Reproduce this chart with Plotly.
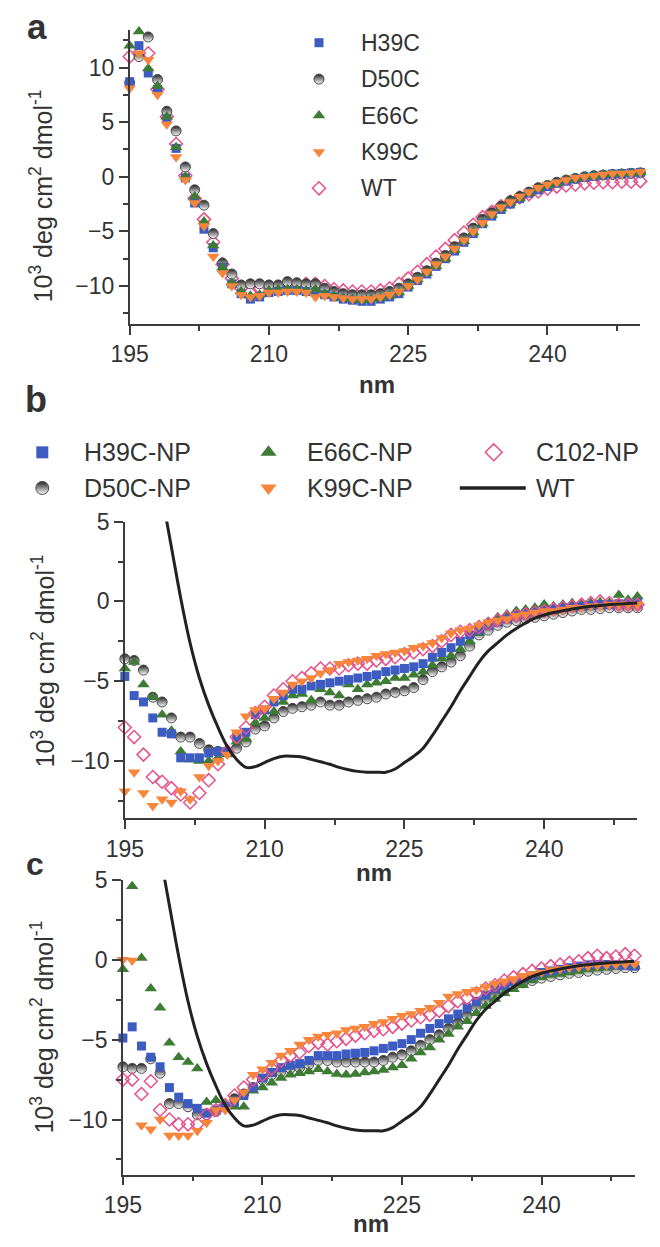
import plotly.graph_objects as go

W, H = 660, 1247
OFF = 8  # page body margin; the figure is sized so it fills the window exactly
FW, FH = W - OFF, H - OFF

# ---------------- data ----------------
wavelength = list(range(195, 251))  # nm, 1 nm steps

# panel a: free proteins (10^3 deg cm2 dmol-1)
a_h39c = [8.7, 12.0, 9.5, 8.0, 5.3, 2.6, -0.1, -2.4, -4.8, -6.5,
          -8.3, -9.8, -10.7, -11.2, -11.0, -10.6, -10.5, -10.4, -10.4, -10.5,
          -10.6, -10.8, -11.0, -11.2, -11.3, -11.4, -11.4, -11.2, -11.0, -10.7,
          -10.1, -9.5, -8.9, -8.2, -7.5, -6.8, -6.0, -5.2, -4.3, -3.6,
          -3.0, -2.5, -2.0, -1.5, -1.2, -0.9, -0.6, -0.4, -0.2, -0.05,
          0.05, 0.15, 0.25, 0.3, 0.35, 0.4]
a_d50c = [8.6, 11.0, 12.8, 8.9, 6.0, 4.2, 0.9, -1.2, -2.6, -5.2,
          -7.9, -8.9, -9.9, -9.8, -9.8, -9.9, -9.9, -9.6, -9.7, -9.8,
          -9.8, -10.2, -10.5, -10.7, -10.8, -10.8, -10.8, -10.7, -10.5, -10.2,
          -9.8, -9.2, -8.6, -7.9, -7.2, -6.4, -5.6, -4.7, -3.9, -3.3,
          -2.7, -2.2, -1.8, -1.4, -1.0, -0.8, -0.5, -0.3, -0.15, 0.0,
          0.1, 0.15, 0.2, 0.25, 0.3, 0.35]
a_e66c = [12.0, 13.3, 9.9, 8.3, 5.5, 2.7, 0.0, -1.8, -4.1, -6.3,
          -8.3, -9.7, -10.5, -10.9, -10.8, -10.4, -10.3, -10.3, -10.3, -10.4,
          -10.3, -10.7, -10.9, -11.1, -11.2, -11.3, -11.2, -11.1, -10.9, -10.6,
          -10.0, -9.4, -8.8, -8.2, -7.5, -6.7, -5.9, -5.1, -4.3, -3.5,
          -2.9, -2.4, -2.0, -1.5, -1.1, -0.8, -0.6, -0.3, -0.2, 0.0,
          0.1, 0.2, 0.25, 0.3, 0.35, 0.4]
a_k99c = [8.1, 11.3, 10.7, 7.5, 4.8, 1.8, -0.3, -2.4, -4.5, -7.3,
          -8.8, -10.0, -10.8, -11.0, -10.9, -10.6, -10.6, -10.5, -10.5, -10.6,
          -11.0, -10.9, -11.0, -11.1, -11.2, -11.2, -11.2, -11.0, -10.8, -10.5,
          -10.0, -9.4, -8.7, -8.0, -7.3, -6.6, -5.8, -5.0, -4.2, -3.4,
          -2.8, -2.3, -1.8, -1.4, -1.0, -0.7, -0.5, -0.3, -0.1, 0.0,
          0.1, 0.2, 0.3, 0.3, 0.35, 0.45]
a_wt = [11.0, 11.3, 11.3, 8.0, 5.5, 3.0, 0.1, -2.0, -3.9, -6.0,
        -8.0, -9.3, -10.2, -10.5, -10.3, -10.1, -10.2, -9.8, -10.0, -9.8,
        -9.8, -10.0, -10.3, -10.4, -10.5, -10.5, -10.5, -10.4, -10.2, -9.8,
        -9.3, -8.7, -8.0, -7.3, -6.6, -5.8, -5.1, -4.4, -3.7, -3.2,
        -2.7, -2.3, -1.9, -1.6, -1.35, -1.1, -0.9, -0.8, -0.7, -0.6,
        -0.55, -0.5, -0.5, -0.45, -0.45, -0.4]

# panel b: nanoparticle conjugates
b_h39c = [-4.7, -5.9, -6.3, -7.3, -8.2, -8.3, -9.8, -9.8, -9.8, -9.5,
          -9.4, -9.4, -8.5, -8.2, -7.1, -6.8, -6.3, -5.9, -5.5, -5.5,
          -5.3, -5.2, -5.1, -5.0, -4.9, -4.8, -4.7, -4.6, -4.4, -4.3,
          -4.2, -4.1, -3.9, -3.5, -3.2, -2.9, -2.5, -2.1, -1.8, -1.5,
          -1.3, -1.1, -0.9, -0.8, -0.7, -0.6, -0.5, -0.4, -0.35, -0.3,
          -0.25, -0.2, -0.2, -0.15, -0.15, -0.1]
b_d50c = [-3.6, -3.7, -4.3, -6.0, -6.3, -7.3, -8.5, -8.5, -8.9, -9.3,
          -9.4, -9.4, -9.2, -8.8, -8.0, -7.8, -7.3, -6.9, -6.7, -6.6,
          -6.5, -6.3, -6.5, -6.5, -6.3, -6.2, -6.1, -6.0, -5.8, -5.7,
          -5.6, -5.4, -4.9, -4.4, -4.1, -3.8, -3.4, -2.8, -2.1, -1.8,
          -1.5, -1.3, -1.2, -1.1, -1.0, -0.9, -0.8, -0.7, -0.6, -0.5,
          -0.5, -0.45, -0.4, -0.4, -0.4, -0.4]
b_e66c = [-4.2, -3.8, -5.2, -6.0, -7.1, -8.1, -9.4, -9.9, -10.0, -10.0,
          -9.8, -9.6, -8.8, -8.6, -7.6, -7.3, -6.9, -6.3, -5.9, -5.8,
          -6.2, -5.5, -5.7, -5.9, -5.2, -5.5, -5.2, -5.1, -5.0, -4.8,
          -4.8, -4.6, -4.4, -4.0, -3.6, -3.4, -3.0, -2.5, -2.0, -1.3,
          -1.0, -0.8, -0.6, -0.5, -0.4, -0.2, -0.3, -0.2, -0.1, -0.2,
          -0.1, -0.05, -0.1, 0.4, 0.1, 0.3]
b_k99c = [-11.9, -10.7, -12.0, -12.8, -12.4, -12.6, -11.9, -12.4, -11.0, -10.3,
          -10.0, -9.6, -8.2, -7.2, -6.8, -6.7, -6.1, -5.7, -5.2, -5.0,
          -4.8, -4.5, -4.3, -3.9, -3.8, -3.7, -3.6, -3.4, -3.3, -3.2,
          -3.1, -2.9, -2.8, -2.6, -2.3, -2.0, -1.8, -1.7, -1.5, -1.3,
          -1.2, -1.1, -0.9, -0.8, -0.7, -0.6, -0.6, -0.5, -0.4, -0.4,
          -0.3, -0.3, -0.2, -0.2, -0.2, -0.2]
b_c102 = [-7.9, -8.5, -9.6, -11.0, -11.3, -11.7, -12.1, -12.6, -12.0, -11.2,
          -10.2, -9.4, -8.5, -7.9, -7.0, -6.6, -5.9, -5.5, -5.0, -4.8,
          -4.5, -4.2, -4.2, -4.2, -4.0, -3.9, -3.9, -3.7, -3.6, -3.5,
          -3.3, -3.2, -3.0, -2.8, -2.5, -2.1, -1.9, -1.8, -1.6, -1.4,
          -1.2, -1.0, -0.9, -0.8, -0.7, -0.6, -0.5, -0.4, -0.3, -0.2,
          -0.1, 0.0, -0.1, -0.2, -0.2, -0.2]

# wild-type reference spectrum (solid line in b and c)
wt_line = [17.5, 15.6, 13.0, 9.8, 6.6, 3.4, 0.2, -2.6, -4.8, -6.5,
           -7.9, -9.1, -9.9, -10.4, -10.35, -10.1, -9.85, -9.7, -9.7, -9.75,
           -9.9, -10.05, -10.2, -10.4, -10.55, -10.65, -10.7, -10.7, -10.7, -10.5,
           -10.1, -9.7, -9.2, -8.4, -7.5, -6.6, -5.6, -4.7, -3.8, -3.1,
           -2.6, -2.1, -1.7, -1.35, -1.05, -0.85, -0.7, -0.58, -0.47, -0.38,
           -0.31, -0.25, -0.2, -0.16, -0.13, -0.1]

# panel c
c_h39c = [-4.9, -4.2, -5.4, -6.1, -6.7, -8.0, -8.6, -9.0, -9.3, -9.6,
          -9.4, -9.2, -8.9, -8.5, -8.0, -7.4, -7.05, -6.75, -6.6, -6.5,
          -6.3, -6.0, -6.0, -6.0, -5.9, -5.85, -5.8, -5.7, -5.55, -5.4,
          -5.25, -5.0, -4.6, -4.3, -4.0, -3.7, -3.4, -3.0, -2.6, -2.2,
          -1.8, -1.6, -1.35, -1.15, -1.0, -0.8, -0.7, -0.6, -0.5, -0.4,
          -0.32, -0.3, -0.3, -0.32, -0.35, -0.4]
c_d50c = [-6.7, -6.8, -6.8, -6.2, -7.1, -9.0, -9.0, -9.2, -9.7, -9.7,
          -9.5, -9.2, -8.7, -8.4, -8.0, -7.5, -7.2, -7.0, -6.8, -6.75,
          -6.55, -6.3, -6.3, -6.4, -6.4, -6.4, -6.4, -6.4, -6.3, -6.1,
          -5.95, -5.7, -5.35, -5.0, -4.7, -4.3, -3.95, -3.5, -3.0, -2.55,
          -2.2, -1.9, -1.65, -1.45, -1.3, -1.15, -1.05, -0.95, -0.85, -0.8,
          -0.72, -0.65, -0.6, -0.55, -0.5, -0.5]
c_e66c = [-0.6, 4.6, 0.1, -1.8, -3.0, -5.2, -6.1, -6.4, -6.8, -8.9,
          -8.8, -9.1, -9.2, -9.2, -8.2, -8.0, -7.7, -7.4, -7.2, -7.1,
          -7.0, -6.85, -7.0, -7.15, -7.2, -7.15, -7.05, -7.0, -6.9, -6.75,
          -6.6, -6.2, -5.8, -5.5, -5.0, -4.65, -4.2, -3.85, -3.35, -2.9,
          -2.45, -2.1, -1.85, -1.6, -1.3, -1.1, -0.95, -0.9, -0.8, -0.7,
          -0.6, -0.55, -0.5, -0.45, -0.42, -0.4]
c_k99c = [0.0, -0.05, -10.35, -10.6, -10.0, -11.0, -11.0, -11.0, -10.7, -10.2,
          -9.4, -9.4, -8.8, -8.3, -7.2, -6.85, -6.45, -6.0, -5.7, -5.3,
          -5.0, -4.8, -4.7, -4.6, -4.4, -4.3, -4.2, -4.0, -3.9, -3.7,
          -3.5, -3.4, -3.2, -3.0, -2.7, -2.3, -2.15, -2.0, -1.9, -1.7,
          -1.5, -1.35, -1.2, -1.0, -0.9, -0.8, -0.65, -0.58, -0.5, -0.45,
          -0.4, -0.36, -0.33, -0.3, -0.28, -0.27]
c_c102 = [-7.5, -7.5, -8.4, -7.6, -9.4, -10.0, -10.3, -10.3, -10.3, -9.7,
          -9.4, -9.1, -8.5, -8.0, -7.5, -7.2, -6.8, -6.3, -6.0, -5.8,
          -5.4, -5.2, -5.3, -5.1, -4.95, -4.75, -4.6, -4.45, -4.35, -4.2,
          -4.0, -3.8, -3.6, -3.45, -3.2, -2.9, -2.6, -2.4, -2.1, -1.8,
          -1.6, -1.3, -1.1, -0.9, -0.7, -0.55, -0.4, -0.3, -0.2, -0.1,
          0.1, 0.25, 0.1, 0.2, 0.35, 0.25]

x_ticks = [195, 210, 225, 240]
x_minor = [202.5, 217.5, 232.5, 247.5]

# ---------------- styling ----------------
FONT = "Liberation Sans, Arial, sans-serif"
TXT = "#333333"
AX = "#3c3c3c"
BLUE = "#3c5cc2"
GREEN = "#3e7b34"
ORANGE = "#f7853b"
PINK = "#e6508a"
DARK = "#222222"

STYLES = {
    "square": dict(symbol="square", color=BLUE),
    "half": dict(symbol="circle", color=DARK),
    "up": dict(symbol="triangle-up", color=GREEN),
    "down": dict(symbol="triangle-down", color=ORANGE),
    "diamond": dict(symbol="diamond-open", color=PINK),
}


def px_x(p):
    return (p - OFF) / FW


def px_y(p):
    return 1 - (p - OFF) / FH


def marker_style(style, size):
    st = STYLES[style]
    if style == "half":
        # dark top, white bottom: vertical gradient inside a grey rim
        return dict(symbol="circle", size=size + 1, color=DARK,
                    gradient=dict(type="vertical", color="white"),
                    line=dict(color="#4a4a4a", width=1))
    if style == "diamond":
        return dict(symbol=st["symbol"], size=size + 1, color=PINK, line=dict(color=PINK, width=1.5))
    extra = 2 if style in ("up", "down") else 0
    return dict(symbol=st["symbol"], size=size + extra, color=st["color"], line=dict(width=0))


def series_trace(x, y, style, xa, ya, size):
    return go.Scatter(x=x, y=y, xaxis=xa, yaxis=ya, mode="markers",
                      marker=marker_style(style, size),
                      cliponaxis=False, showlegend=False, hoverinfo="skip")


fig = go.Figure()

# panel a
for vals, style in [(a_wt, "diamond"), (a_d50c, "half"), (a_h39c, "square"),
                    (a_e66c, "up"), (a_k99c, "down")]:
    fig.add_trace(series_trace(wavelength, vals, style, "x", "y", 9))

# panel b
for vals, style in [(b_d50c, "half"), (b_e66c, "up"), (b_h39c, "square"),
                    (b_c102, "diamond"), (b_k99c, "down")]:
    fig.add_trace(series_trace(wavelength, vals, style, "x2", "y2", 9))
fig.add_trace(go.Scatter(x=wavelength, y=wt_line, xaxis="x2", yaxis="y2", mode="lines",
                         line=dict(color=DARK, width=3, shape="spline"),
                         showlegend=False, hoverinfo="skip"))

# panel c
for vals, style in [(c_d50c, "half"), (c_e66c, "up"), (c_h39c, "square"),
                    (c_c102, "diamond"), (c_k99c, "down")]:
    fig.add_trace(series_trace(wavelength, vals, style, "x3", "y3", 9))
fig.add_trace(go.Scatter(x=wavelength, y=wt_line, xaxis="x3", yaxis="y3", mode="lines",
                         line=dict(color=DARK, width=3, shape="spline"),
                         showlegend=False, hoverinfo="skip"))

# ---------------- legends (drawn on a pixel-space overlay) ----------------
annotations = []
legend_a = [("H39C", "square"), ("D50C", "half"), ("E66C", "up"), ("K99C", "down"), ("WT", "diamond")]
legend_b = [("H39C-NP", "square"), ("E66C-NP", "up"), ("C102-NP", "diamond"),
            ("D50C-NP", "half"), ("K99C-NP", "down"), ("WT", "line")]


def legend_key(style, cx, cy, size):
    if style == "line":
        return go.Scatter(x=[cx - 34, cx + 34], y=[cy, cy], xaxis="x4", yaxis="y4", mode="lines",
                          line=dict(color=DARK, width=3.5), showlegend=False, hoverinfo="skip")
    return series_trace([cx], [cy], style, "x4", "y4", size)


for i, (name, style) in enumerate(legend_a):
    cy = 38 + i * 36.8
    fig.add_trace(legend_key(style, 317, cy, 9))
    annotations.append(dict(x=px_x(358), y=px_y(cy), xref="paper", yref="paper", text=name,
                            showarrow=False, xanchor="left", yanchor="middle",
                            font=dict(family=FONT, size=23, color=TXT)))

col_key = [32, 265, 497]
col_txt = [73, 303, 538]
row_y = [452, 488]
for i, (name, style) in enumerate(legend_b):
    r, c = divmod(i, 3)
    kx = col_key[c] if style != "line" else 496
    fig.add_trace(legend_key(style, kx, row_y[r], 12))
    annotations.append(dict(x=px_x(col_txt[c]), y=px_y(row_y[r]), xref="paper", yref="paper",
                            text=name, showarrow=False, xanchor="left", yanchor="middle",
                            font=dict(family=FONT, size=25, color=TXT)))

# panel letters
for letter, (lx, ly, fs) in {"a": (27, 22, 35), "b": (26, 399, 36), "c": (24, 868, 32)}.items():
    annotations.append(dict(x=px_x(lx), y=px_y(ly), xref="paper", yref="paper", text=f"<b>{letter}</b>",
                            showarrow=False, xanchor="center", yanchor="middle",
                            font=dict(family=FONT, size=fs, color=TXT)))

# axis titles
ytitle = "10<sup>3</sup> deg cm<sup>2</sup> dmol<sup>-1</sup>"
for (tx, ty) in [(31, 193), (33, 663), (32, 1033)]:
    annotations.append(dict(x=px_x(tx), y=px_y(ty), xref="paper", yref="paper", text=ytitle,
                            textangle=-90, showarrow=False, xanchor="center", yanchor="middle",
                            font=dict(family=FONT, size=25, color=TXT)))
for (tx, ty) in [(377, 383), (374, 877)]:
    annotations.append(dict(x=px_x(tx), y=px_y(ty), xref="paper", yref="paper", text="<b>nm</b>",
                            showarrow=False, xanchor="center", yanchor="middle",
                            font=dict(family=FONT, size=24, color=TXT)))
annotations.append(dict(x=px_x(371), y=px_y(H), xref="paper", yref="paper", text="<b>nm</b>",
                        showarrow=False, xanchor="center", yanchor="bottom",
                        font=dict(family=FONT, size=24, color=TXT)))


def xaxis(domain, anchor):
    return dict(domain=domain, anchor=anchor, range=[195, 250], tickvals=x_ticks,
                ticks="outside", ticklen=9, tickwidth=1.5, tickcolor=AX,
                showline=True, linecolor=AX, linewidth=1.6, showgrid=False, zeroline=False,
                tickfont=dict(family=FONT, size=23, color=TXT),
                minor=dict(tickvals=x_minor, ticks="outside", ticklen=5, tickwidth=1.5,
                           tickcolor=AX, showgrid=False))


def yaxis(domain, anchor, rng, major, minor):
    return dict(domain=domain, anchor=anchor, range=rng, tickvals=major,
                ticks="outside", ticklen=9, tickwidth=1.5, tickcolor=AX,
                showline=True, linecolor=AX, linewidth=1.6, showgrid=False, zeroline=False,
                tickfont=dict(family=FONT, size=23, color=TXT),
                minor=dict(tickvals=minor, ticks="outside", ticklen=5, tickwidth=1.5,
                           tickcolor=AX, showgrid=False))


fig.update_layout(
    width=FW, height=FH,
    margin=dict(l=0, r=0, t=0, b=0),
    paper_bgcolor="white", plot_bgcolor="rgba(0,0,0,0)",
    showlegend=False,
    font=dict(family=FONT, color=TXT),
    xaxis=xaxis([px_x(122), px_x(648)], "y"),
    yaxis=yaxis([px_y(322), px_y(25)], "x", [-13.45, 13.45], [-10, -5, 0, 5, 10],
                [-12.5, -7.5, -2.5, 2.5, 7.5, 12.5]),
    xaxis2=xaxis([px_x(117), px_x(645)], "y2"),
    yaxis2=yaxis([px_y(822), px_y(522)], "x2", [-13.6, 5], [-10, -5, 0, 5],
                 [-12.5, -7.5, -2.5, 2.5]),
    xaxis3=xaxis([px_x(115), px_x(642)], "y3"),
    yaxis3=yaxis([px_y(1182), px_y(884)], "x3", [-13.45, 5], [-10, -5, 0, 5],
                 [-12.5, -7.5, -2.5, 2.5]),
    xaxis4=dict(domain=[0, 1], anchor="y4", range=[OFF, W], visible=False, fixedrange=True),
    yaxis4=dict(domain=[0, 1], anchor="x4", range=[H, OFF], visible=False, fixedrange=True),
    annotations=annotations,
)

fig.write_html("out.html")
